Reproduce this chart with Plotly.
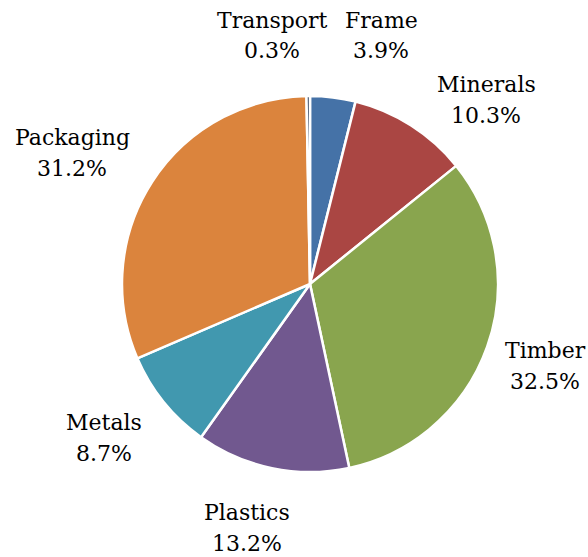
import plotly.graph_objects as go

# Share of each category (percent), clockwise from 12 o'clock
categories = ["Frame", "Minerals", "Timber", "Plastics", "Metals", "Packaging", "Transport"]
shares = [3.9, 10.3, 32.5, 13.2, 8.7, 31.2, 0.3]
colors = ["#4572A7", "#AA4643", "#89A54E", "#71588F", "#4198AF", "#DB843D", "#2C3E5A"]

# Label centres in pixels (name line; percentage line sits below it)
label_px = {
    "Frame": (381, 20),
    "Minerals": (486, 84),
    "Timber": (545, 350),
    "Plastics": (247, 512),
    "Metals": (104, 422),
    "Packaging": (72, 137),
    "Transport": (272, 20),
}

W, H = 588, 557
cx, cy, r = 310, 284, 188
SERIF = "DejaVu Serif"

fig = go.Figure(
    go.Pie(
        labels=categories,
        values=shares,
        sort=False,
        direction="clockwise",
        rotation=0,
        marker=dict(colors=colors, line=dict(color="white", width=2.5)),
        textinfo="none",
        hoverinfo="label+percent",
        showlegend=False,
        domain=dict(
            x=[(cx - r) / W, (cx + r) / W],
            y=[(H - cy - r) / H, (H - cy + r) / H],
        ),
    )
)

annotations = []
for name, val in zip(categories, shares):
    px, py = label_px[name]
    for text, dy in ((name, 0), (f"{val:.1f}%", 31)):
        annotations.append(
            dict(
                text=text,
                x=px / W,
                y=1 - (py + dy) / H,
                xref="paper",
                yref="paper",
                xanchor="center",
                yanchor="middle",
                showarrow=False,
                font=dict(family=SERIF, size=22, color="#000000"),
            )
        )

fig.update_layout(
    font=dict(family=SERIF, color="#000000"),
    width=W,
    height=H,
    margin=dict(l=0, r=0, t=0, b=0),
    paper_bgcolor="white",
    plot_bgcolor="white",
    annotations=annotations,
)

fig.write_html("out.html")
